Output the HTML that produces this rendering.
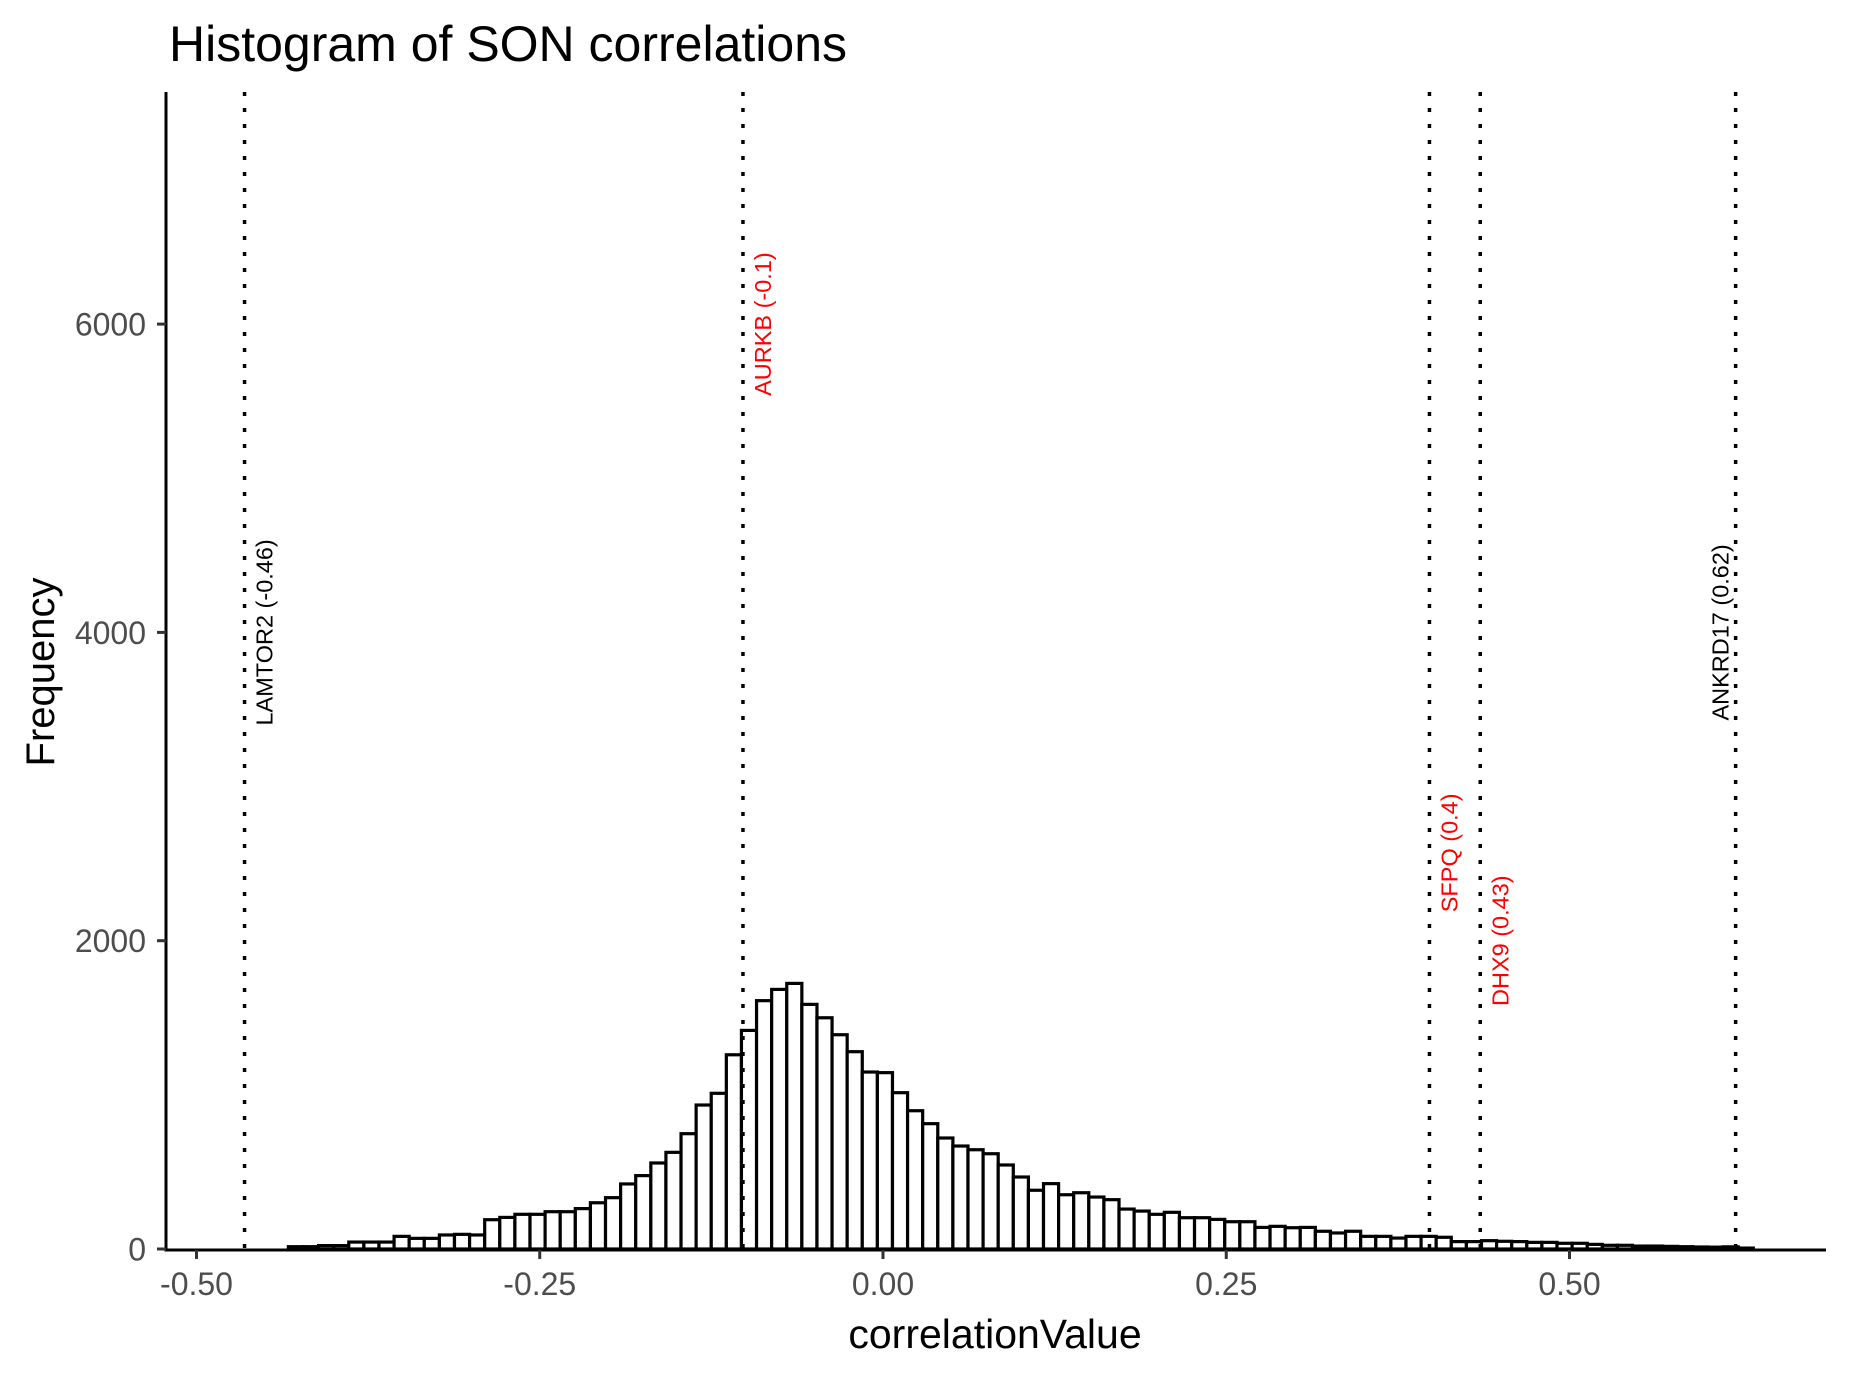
<!DOCTYPE html>
<html><head><meta charset="utf-8"><style>
html,body{margin:0;padding:0;background:#fff;}
svg{display:block;font-family:"Liberation Sans",Arial,sans-serif;}
</style></head><body>
<svg id="chart" width="1849" height="1381" viewBox="0 0 1849 1381" xmlns="http://www.w3.org/2000/svg">
<rect width="1849" height="1381" fill="#fff"/>
<text x="169" y="61" font-size="50" fill="#000">Histogram of SON correlations</text>
<g id="bars"></g>
<g id="vlines"></g>
<g id="axes"></g>
<text x="995" y="1348" font-size="41" text-anchor="middle" fill="#000">correlationValue</text>
<text transform="translate(54,672) rotate(-90)" font-size="40" text-anchor="middle" fill="#000">Frequency</text>
</svg>
<script>
const binStart = -0.4881;
const binWidth = 0.011;
const counts = [0,0,0,0,0,
15,15,22,22,45,45,45,82,69,69,91,95,91,190,205,225,
225,242,242,262,300,333,422,476,558,627,748,934,1010,1260,
1418,1611,1684,1723,1587,1500,1390,1280,1148,1144,1014,897,813,720,668,644,618,545,467,381,424,352,365,337,
320,259,246,225,238,203,203,192,177,177,140,147,138,140,115,104,115,82,82,71,82,82,76,48,48,
54,50,48,43,43,37,37,30,24,24,19,19,17,15,13,12,14,6];
const xTicks = [-0.5,-0.25,0,0.25,0.5];
const xTickLabels = ["-0.50","-0.25","0.00","0.25","0.50"];
const yTicks = [0,2000,4000,6000];
const yTickLabels = ["0","2000","4000","6000"];
const geneNames = ["LAMTOR2 (-0.46)","AURKB (-0.1)","SFPQ (0.4)","DHX9 (0.43)","ANKRD17 (0.62)"];
const geneValues = [-0.465,-0.102,0.398,0.435,0.621];
const geneLabelY = [4000,6000,2570,2000,4000];
const geneColors = ["#000","#f00","#f00","#f00","#000"];

const NS="http://www.w3.org/2000/svg";
function X(v){return 883+v*1373;}
function Y(c){return 1249-c*0.15415;}
function mk(tag,attrs,parent){const e=document.createElementNS(NS,tag);for(const k in attrs)e.setAttribute(k,attrs[k]);parent.appendChild(e);return e;}

const bars=document.getElementById('bars');
counts.forEach((c,i)=>{
  const x0=X(binStart+i*binWidth), x1=X(binStart+(i+1)*binWidth);
  const r=mk('rect',{x:x0,y:Y(c),width:x1-x0,height:Y(0)-Y(c),fill:'#fff',stroke:'#000','stroke-width':3.2},bars);
  
  
});

const vl=document.getElementById('vlines');
geneValues.forEach((v,i)=>{
  const x=X(v);
  const l=mk('line',{x1:x,x2:x,y1:92,y2:1249,stroke:'#000','stroke-width':3.5,'stroke-dasharray':'4 12'},vl);
  
  
  const left = i===4;
  const tx = left ? x-7 : x+28;
  const t=mk('text',{transform:'translate('+tx+','+Y(geneLabelY[i])+') rotate(-90)','font-size':23.5,'text-anchor':'middle',fill:geneColors[i]},vl);
  t.textContent=geneNames[i];
  
  
});

const ax=document.getElementById('axes');
const yl=mk('line',{x1:166,x2:166,y1:92,y2:1251,stroke:'#000','stroke-width':3},ax);


const xl=mk('line',{x1:164.5,x2:1826,y1:1250,y2:1250,stroke:'#000','stroke-width':3},ax);


yTicks.forEach((v,i)=>{
  const tk=mk('line',{x1:157,x2:166,y1:Y(v),y2:Y(v),stroke:'#333','stroke-width':3},ax);
  
  
  const t=mk('text',{x:146,y:Y(v)+11.5,'font-size':32,'text-anchor':'end',fill:'#4d4d4d'},ax);
  t.textContent=yTickLabels[i];
  
  
});
xTicks.forEach((v,i)=>{
  const tk=mk('line',{x1:X(v),x2:X(v),y1:1250,y2:1259,stroke:'#333','stroke-width':3},ax);
  
  
  const t=mk('text',{x:X(v),y:1295,'font-size':32,'text-anchor':'middle',fill:'#4d4d4d'},ax);
  t.textContent=xTickLabels[i];
  
  
});
</script>
</body></html>
